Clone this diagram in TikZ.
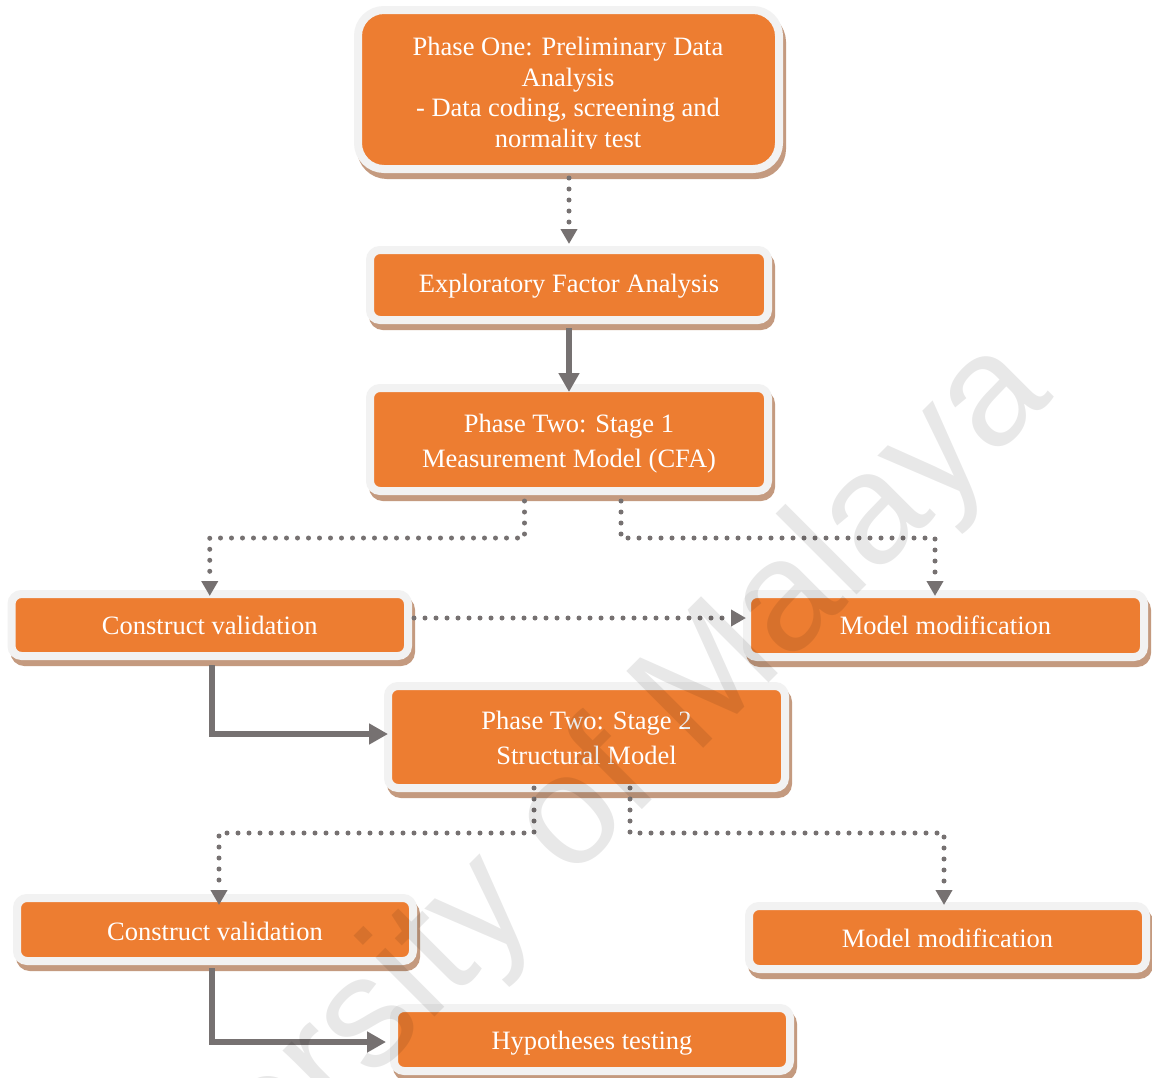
\documentclass[tikz,border=0pt]{standalone}
\usepackage{fontspec}
\setmainfont{Liberation Serif}
\newfontfamily\wmfont{Liberation Sans}
\usetikzlibrary{arrows.meta,calc}
\definecolor{boxorange}{HTML}{ED7D31}
\definecolor{boxrim}{HTML}{F2F2F2}
\definecolor{boxshade}{HTML}{C49A7F}
\definecolor{linkgrey}{HTML}{767171}
% invisible strut that lowers a node's text block
\newcommand{\padtop}[1]{\rule{0pt}{#1}}
\begin{document}
\begin{tikzpicture}[x=1pt,y=-1pt,
  stepbox/.style={draw=boxrim, fill=boxorange, line width=8pt, rounded corners=10pt,
    outer sep=0pt, inner sep=0pt, text=white, align=center,
    font=\fontsize{26.5}{35}\selectfont,
    preaction={draw=boxshade, fill=boxshade, line width=8pt,
      transform canvas={xshift=3pt,yshift=-6pt}}},
  boxtext/.style={text=white, align=center, inner sep=0pt,
    font=\fontsize{26.5}{30.7}\selectfont},
  dotlink/.style={draw=linkgrey, line width=5pt, line cap=round,
    dash pattern=on 0pt off 11pt, -{Triangle[length=15pt,width=16pt]}},
  solidlink/.style={draw=linkgrey, line width=6.5pt,
    -{Triangle[length=19pt,width=20pt]}},
  wmark/.style={font=\wmfont\fontsize{158}{158}\selectfont, text=black,
    text opacity=0.09, rotate=45, anchor=base east, inner sep=0pt}]

\useasboundingbox (0,0) rectangle (1152,1077);
\fill[white] (0,0) rectangle (1152,1077);
\clip (0,0) rectangle (1152,1077);

% boxes
\node[stepbox, rounded corners=26pt, minimum width=421pt, minimum height=159pt] (b1) at (568.5,89.5) {};
\begin{scope}
  \clip (358,10) rectangle (779,148);
  \node[boxtext, anchor=north] (t1) at (568,37) {Phase One: Preliminary Data\\Analysis\\- Data coding, screening and\\normality test};
\end{scope}
\node[stepbox, minimum width=398pt, minimum height=70pt] (b2) at (569,285) {\padtop{20pt}Exploratory Factor Analysis};
\node[stepbox, minimum width=398pt, minimum height=103pt] (b3) at (569,439.5) {\padtop{26pt}Phase Two: Stage 1\\Measurement Model (CFA)};
\node[stepbox, minimum width=396.5pt, minimum height=62pt] (b4) at (209.75,625) {Construct validation};
\node[stepbox, minimum width=397pt, minimum height=63pt] (b5) at (945.5,625.5) {Model modification};
\node[stepbox, minimum width=397pt, minimum height=102pt] (b6) at (586.5,737) {\padtop{20pt}Phase Two: Stage 2\\Structural Model};
\node[stepbox, minimum width=396pt, minimum height=63pt] (b7) at (215,929.5) {\padtop{22pt}Construct validation};
\node[stepbox, minimum width=397pt, minimum height=63pt] (b8) at (947.5,937.5) {\padtop{20pt}Model modification};
\node[stepbox, minimum width=396pt, minimum height=63pt] (b9) at (592,1039.5) {\padtop{26pt}Hypotheses testing};

% connectors
\draw[dotlink] ($(b1.south)+(0.5,9)$) -- ($(b2.north)+(0,-6)$);
\draw[solidlink] ($(b2.south)+(0,8)$) -- ($(b3.north)+(0,4)$);
\draw[dotlink] ($(b3.south)+(-44.5,10)$) -- ($(b3.south)+(-44.5,47)$) -| ($(b4.north)+(0,2)$);
\draw[dotlink] ($(b3.south)+(52,10)$) -- ($(b3.south)+(52,47)$) -| ($(b5.north)+(-10.5,2)$);
\draw[dotlink] ($(b4.east)+(6,-7)$) coordinate (c5) -- ([xshift=-1pt]c5 -| b5.west);
\draw[solidlink] ($(b4.south)+(2,9)$) |- ($(b6.west)+(0,-3)$);
\draw[dotlink] ($(b6.south)+(-52.5,0)$) -- ($(b6.south)+(-52.5,45)$) -| ($(b7.north)+(4,7)$);
\draw[dotlink] ($(b6.south)+(43.5,0)$) -- ($(b6.south)+(43.5,45)$) -| ($(b8.north)+(-3.5,-1)$);
\draw[solidlink] ($(b7.south)+(-3,7)$) |- ($(b9.west)+(-8,2.5)$);

% watermark
\node[wmark] (wm) at (1055,397) {University of Malaya};
\end{tikzpicture}
\end{document}
